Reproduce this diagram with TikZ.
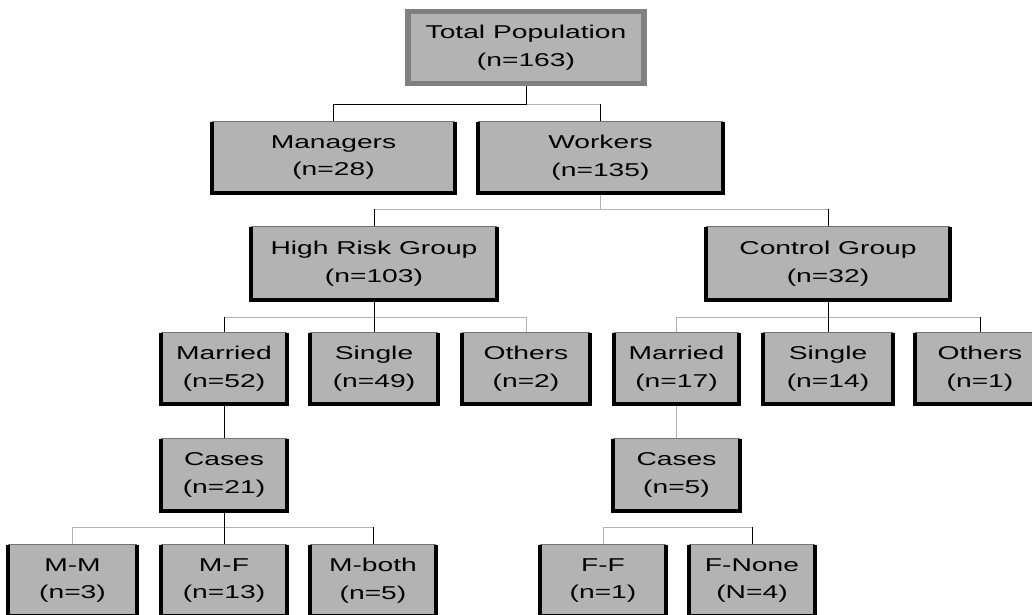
\documentclass[tikz,border=0pt]{standalone}
\usepackage{fontspec}
\usepackage{graphicx}
\setmainfont{Liberation Sans}
\usetikzlibrary{shadows}
\definecolor{boxgray}{HTML}{B3B3B3}
\definecolor{framegray}{HTML}{808080}
\newcommand\pxu{0.025cm}
% stretched two-line label
\newcommand\lbl[2]{\scalebox{1.52}[1]{#1}\\\scalebox{1.52}[1]{#2}}
\begin{document}
\begin{tikzpicture}[x=0.025cm, y=-0.025cm,
    cell/.style 2 args={fill=boxgray, inner sep=0pt, align=center,
        minimum width=#1*\pxu, minimum height=#2*\pxu,
        font=\fontsize{13.2}{19.8}\selectfont},
    topcell/.style={cell={236}{72}, draw=framegray, line width=4pt,
        drop shadow={shadow xshift=1.6pt, shadow yshift=-1.4pt, fill=black, opacity=1}},
    link/.style={black, line width=0.7pt},
    faint/.style={black!30, line width=0.7pt},
    rim/.style={black, line width=2.8pt},
    toprim/.style={black!55, line width=0.8pt}]
    \useasboundingbox (0,0) rectangle (1032,614);
    \clip (0,0) rectangle (1032,614);

    % Root
    \node[topcell] (total) at (526,47.5) {\lbl{Total Population}{(n=163)}};

    % Level 1
    \node[cell={243}{71}] (mgr) at (333.5,157.5) {\lbl{Managers}{(n=28)}};
    \node[cell={245}{71}] (wrk) at (600.5,157.5) {\lbl{Workers}{(n=135)}};

    % Level 2
    \node[cell={245}{73}] (hrg) at (374,263.5) {\lbl{High Risk Group}{(n=103)}};
    \node[cell={243}{73}] (ctl) at (828,263.5) {\lbl{Control Group}{(n=32)}};

    % Level 3
    \node[cell={126}{71}] (hmar) at (224,368.5) {\lbl{Married}{(n=52)}};
    \node[cell={128}{71}] (hsin) at (374,368.5) {\lbl{Single}{(n=49)}};
    \node[cell={128}{71}] (hoth) at (526,368.5) {\lbl{Others}{(n=2)}};
    \node[cell={125}{71}] (cmar) at (676.5,368.5) {\lbl{Married}{(n=17)}};
    \node[cell={129}{71}] (csin) at (828,368.5) {\lbl{Single}{(n=14)}};
    \node[cell={130}{71}] (coth) at (980,368.5) {\lbl{Others}{(n=1)}};

    % Cases
    \node[cell={126}{72}] (casl) at (224,475) {\lbl{Cases}{(n=21)}};
    \node[cell={126}{72}] (casr) at (676.5,475) {\lbl{Cases}{(n=5)}};

    % Bottom row
    \node[cell={129}{71}] (mm) at (72.5,580.5) {\lbl{M-M}{(n=3)}};
    \node[cell={126}{71}] (mf) at (224,580.5) {\lbl{M-F}{(n=13)}};
    \node[cell={126}{71}] (mb) at (373,580.5) {\lbl{M-both}{(n=5)}};
    \node[cell={126}{71}] (ff) at (603,580.5) {\lbl{F-F}{(n=1)}};
    \node[cell={126}{71}] (fn) at (752,580.5) {\lbl{F-None}{(N=4)}};

    % Connectors
    \draw[faint] (total.south) ++(0,18) -| (wrk.north);
    \draw[link] (total.south) -- ++(0,18) -| (mgr.north);
    \draw[link] (wrk.north) -- ++(0,-18);

    \draw[faint] (wrk.south) -- ++(0,16) -| (hrg.north);
    \draw[faint] (wrk.south) ++(0,16) -| (ctl.north);
    \draw[link] (hrg.north) -- ++(0,-18);
    \draw[link] (ctl.north) -- ++(0,-18);

    \draw[faint] (hrg.south) ++(0,17) -| (hmar.north);
    \draw[faint] (hrg.south) ++(0,17) -| (hoth.north);
    \draw[link] (hrg.south) -- (hsin.north);
    \draw[link] (hmar.north) -- ++(0,-16);

    \draw[faint] (ctl.south) ++(0,17) -| (cmar.north);
    \draw[faint] (ctl.south) ++(0,17) -| (coth.north);
    \draw[link] (ctl.south) -- (csin.north);
    \draw[link] (coth.north) -- ++(0,-16);

    \draw[link] (hmar.south) -- (casl.north);
    \draw[faint] (cmar.south) -- (casr.north);

    \draw[faint] (casl.south) ++(0,16) -| (mm.north);
    \draw[faint] (casl.south) ++(0,16) -| (mb.north);
    \draw[link] (casl.south) -- (mf.north);
    \draw[link] (mb.north) -- ++(0,-18);

    \draw[faint] (casr.south) ++(0,16) -| (ff.north);
    \draw[faint] (casr.south) ++(0,16) -| (fn.north);
    \draw[link] (fn.north) -- ++(0,-18);

    % Box rims
    \foreach \n in {mgr,wrk,hrg,ctl,hmar,hsin,hoth,cmar,csin,coth,casl,casr,mm,mf,mb,ff,fn} {
        \draw[toprim] (\n.north west) -- (\n.north east);
        \draw[rim] (\n.north west) -- (\n.south west) -- (\n.south east) -- (\n.north east);
    }
\end{tikzpicture}
\end{document}
